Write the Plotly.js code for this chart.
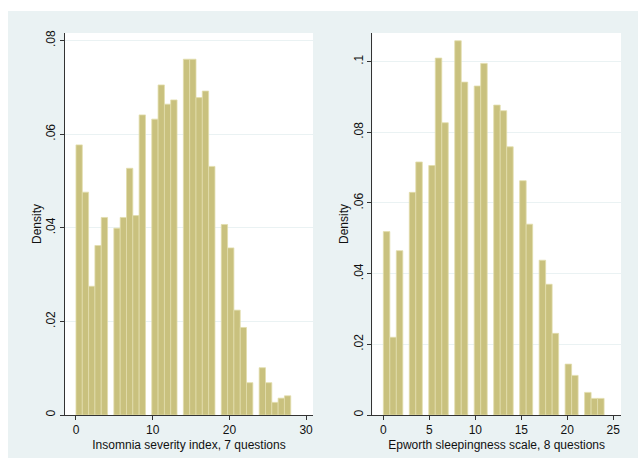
<!DOCTYPE html>
<html>
<head>
<meta charset="utf-8">
<script src="https://cdn.plot.ly/plotly-3.0.1.min.js"></script>
<style>html,body{margin:0;padding:0;background:#fff;}#chart{width:638px;height:467px;}</style>
</head>
<body>
<div id="chart"></div>
<script>
// Insomnia severity index (ISI) score values and histogram densities
const isiScores = [0,1,2,3,4,5,6,7,8,9,10,11,12,13,14,15,16,17,18,19,20,21,22,23,24,25,26,27,28];
const isiDensity = [0.0577,0.0476,0.0275,0.0362,0.0422,0.0399,0.0422,0.0527,0.0426,0.0641,
                    0.0632,0.0705,0.0664,0.0673,0.0760,0.0760,0.0678,0.0692,0.0531,0.0407,
                    0.0357,0.0224,0.0187,0.0069,0.0101,0.0069,0.0027,0.0036,0.0041];
// Epworth sleepiness scale (ESS) score values and histogram densities
const essScores = [0,1,2,3,4,5,6,7,8,9,10,11,12,13,14,15,16,17,18,19,20,21,22,23,24];
const essDensity = [0.0519,0.0220,0.0465,0.0630,0.0716,0.0706,0.1010,0.0827,0.1059,0.0942,
                    0.0931,0.0995,0.0877,0.0861,0.0759,0.0663,0.0540,0.0438,0.0370,0.0231,
                    0.0144,0.0112,0.0064,0.0047,0.0047];
const isiTitle = 'Insomnia severity index, 7 questions';
const essTitle = 'Epworth sleepingness scale, 8 questions';
const isiYTicks = [0, 0.02, 0.04, 0.06, 0.08];
const isiYText = ['0', '.02', '.04', '.06', '.08'];
const essYTicks = [0, 0.02, 0.04, 0.06, 0.08, 0.1];
const essYText = ['0', '.02', '.04', '.06', '.08', '.1'];
const isiXTicks = [0, 10, 20, 30];
const essXTicks = [0, 5, 10, 15, 20, 25];

const NBINS = 34;
function binned(scores, dens, lo, hi) {
  const w = (hi - lo) / NBINS;
  const x = scores.map(v => {
    let k = Math.floor((v - lo) * NBINS / (hi - lo));
    if (k >= NBINS) k = NBINS - 1;
    return lo + (k + 0.5) * w;
  });
  return {x: x, y: dens, w: w};
}
const a = binned(isiScores, isiDensity, 0, 28);
const b = binned(essScores, essDensity, 0, 24);

const barColor = 'rgb(201,193,126)';
const edgeColor = 'rgb(226,221,172)';
const traces = [
  {type: 'bar', x: a.x, y: a.y, width: a.w, xaxis: 'x', yaxis: 'y',
   marker: {color: barColor, line: {color: edgeColor, width: 0.8}}, hoverinfo: 'x+y'},
  {type: 'bar', x: b.x, y: b.y, width: b.w, xaxis: 'x2', yaxis: 'y2',
   marker: {color: barColor, line: {color: edgeColor, width: 0.8}}, hoverinfo: 'x+y'}
];

const bg = '#eaf2f3';
const fontFam = 'Liberation Sans, Arial, Helvetica, sans-serif';
const axisCommon = {
  showline: true, linecolor: '#333', linewidth: 1, mirror: false,
  ticks: 'outside', ticklen: 4, tickcolor: '#333', tickwidth: 1,
  zeroline: false, tickfont: {size: 12, color: '#111', family: fontFam},
  fixedrange: true
};
const yDom = [52/467, 434/467];
const layout = {
  width: 638, height: 467,
  margin: {l: 0, r: 0, t: 0, b: 0},
  paper_bgcolor: bg, plot_bgcolor: '#ffffff',
  showlegend: false, bargap: 0,
  font: {family: fontFam, size: 12, color: '#111'},
  xaxis: Object.assign({}, axisCommon, {domain: [65/638, 313/638], range: [-1.43, 30.9],
    tickvals: isiXTicks, showgrid: false, anchor: 'y',
    title: {text: isiTitle, font: {size: 12, color: '#111'}, standoff: 4}}),
  yaxis: Object.assign({}, axisCommon, {domain: yDom, range: [0, 0.0816], anchor: 'x',
    tickvals: isiYTicks, ticktext: isiYText, tickangle: -90,
    showgrid: true, gridcolor: bg, gridwidth: 1,
    title: {text: 'Density', font: {size: 12, color: '#111'}, standoff: 0}}),
  xaxis2: Object.assign({}, axisCommon, {domain: [372.3/638, 621/638], range: [-1.2, 25.84],
    tickvals: essXTicks, showgrid: false, anchor: 'y2',
    title: {text: essTitle, font: {size: 12, color: '#111'}, standoff: 4}}),
  yaxis2: Object.assign({}, axisCommon, {domain: yDom, range: [0, 0.1081], anchor: 'x2',
    tickvals: essYTicks, ticktext: essYText, tickangle: -90,
    showgrid: true, gridcolor: bg, gridwidth: 1,
    title: {text: 'Density', font: {size: 12, color: '#111'}, standoff: 0}}),
  shapes: [
    {type: 'rect', xref: 'paper', yref: 'paper', x0: 0, x1: 8/638, y0: 0, y1: 1, fillcolor: '#fff', line: {width: 0}, layer: 'below'},
    {type: 'rect', xref: 'paper', yref: 'paper', x0: 0, x1: 1, y0: 1 - 11/467, y1: 1, fillcolor: '#fff', line: {width: 0}, layer: 'below'},
    {type: 'rect', xref: 'paper', yref: 'paper', x0: 0, x1: 1, y0: 0, y1: 9/467, fillcolor: '#fff', line: {width: 0}, layer: 'below'}
  ]
};
Plotly.newPlot('chart', traces, layout, {displayModeBar: false, staticPlot: true});
</script>
</body>
</html>
